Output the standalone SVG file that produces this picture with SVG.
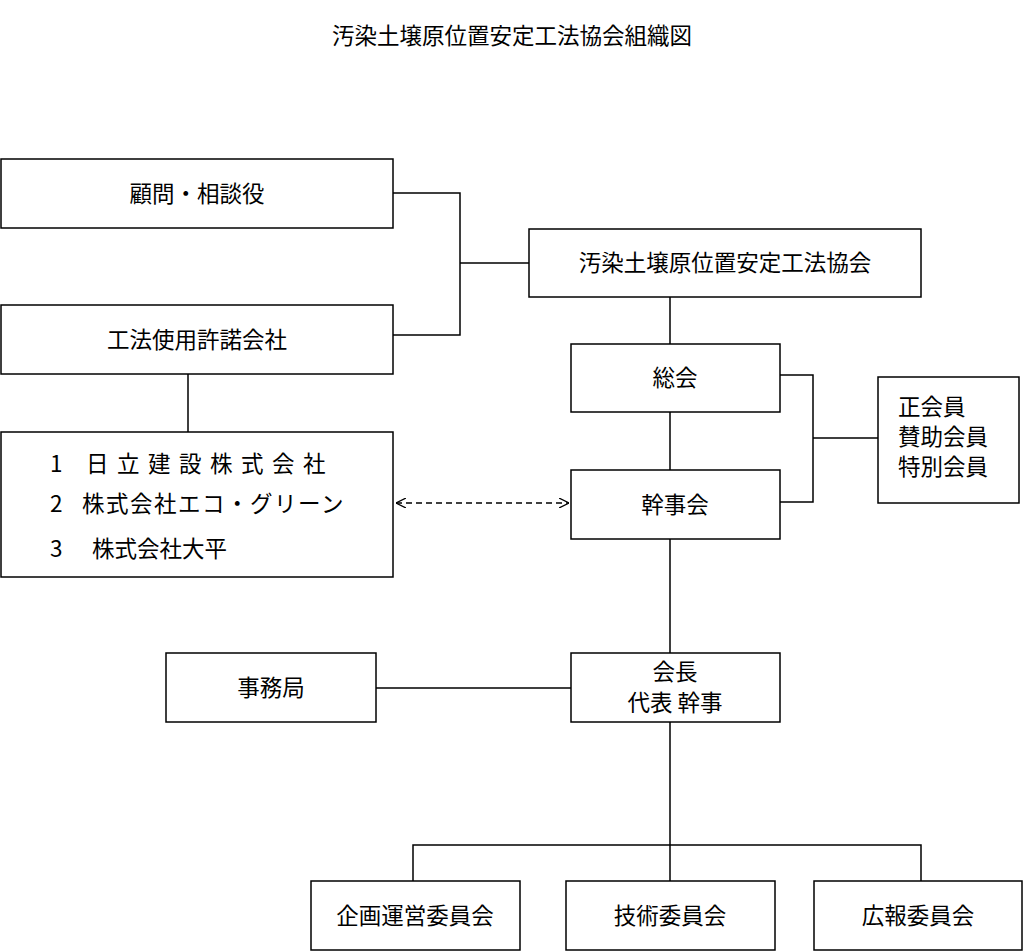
<svg xmlns="http://www.w3.org/2000/svg" width="1024" height="952" viewBox="0 0 1024 952">
<style>
rect{fill:#fff;stroke:#000;stroke-width:1.5}
text{font-family:"Noto Sans CJK JP","Noto Sans",sans-serif;font-size:22.5px;fill:#000}
.c{text-anchor:middle}
.l{fill:none;stroke:#000;stroke-width:1.5}
</style>
<defs><marker id="a" viewBox="0 0 10 10" refX="10" refY="5" markerWidth="10" markerHeight="10" markerUnits="userSpaceOnUse" orient="auto-start-reverse"><path d="M0,0 L10,5 L0,10" fill="none" stroke="#000" stroke-width="1.3"/></marker></defs>
<rect width="1024" height="952" style="stroke:none"/>
<text x="512" y="44" class="c">汚染土壌原位置安定工法協会組織図</text>
<g id="connectors">
<path class="l" d="M393,193H460V335H393M460,263H529M670,297V344M670,412V470M780,375H813V502H780M813,438H878M188,374V432M670,539V653M376,688H571M670,722V845M413,881V845H921V881M670,845V881"/>
<path class="l" d="M396,503H569" stroke-dasharray="6,4" marker-start="url(#a)" marker-end="url(#a)"/>
</g>
<g id="n1"><rect x="1" y="159" width="392" height="69"/><text x="197" y="202" class="c">顧問・相談役</text></g>
<g id="n2"><rect x="1" y="305" width="392" height="69"/><text x="197" y="348" class="c">工法使用許諾会社</text></g>
<g id="n3"><rect x="1" y="432" width="392" height="145"/>
<text x="50" y="472">1<tspan x="86" letter-spacing="8.5">日立建設株式会社</tspan></text>
<text x="50" y="512">2<tspan x="82" letter-spacing="1.5">株式会社エコ・グリーン</tspan></text>
<text x="50" y="557">3<tspan x="92">株式会社大平</tspan></text></g>
<g id="n4"><rect x="529" y="229" width="392" height="68"/><text x="725" y="271" class="c">汚染土壌原位置安定工法協会</text></g>
<g id="n5"><rect x="571" y="344" width="209" height="68"/><text x="675" y="386" class="c">総会</text></g>
<g id="n6"><rect x="878" y="377" width="141" height="126"/><text x="898" y="415">正会員</text><text x="898" y="445">賛助会員</text><text x="898" y="475">特別会員</text></g>
<g id="n7"><rect x="571" y="470" width="209" height="69"/><text x="675" y="513" class="c">幹事会</text></g>
<g id="n8"><rect x="166" y="653" width="210" height="69"/><text x="271" y="696" class="c">事務局</text></g>
<g id="n9"><rect x="571" y="653" width="209" height="69"/><text x="675" y="680" class="c">会長</text><text x="675" y="711" class="c">代表 幹事</text></g>
<g id="n10"><rect x="311" y="881" width="209" height="69"/><text x="415" y="924" class="c">企画運営委員会</text></g>
<g id="n11"><rect x="566" y="881" width="209" height="69"/><text x="670" y="924" class="c">技術委員会</text></g>
<g id="n12"><rect x="814" y="881" width="208" height="69"/><text x="918" y="924" class="c">広報委員会</text></g>
</svg>
